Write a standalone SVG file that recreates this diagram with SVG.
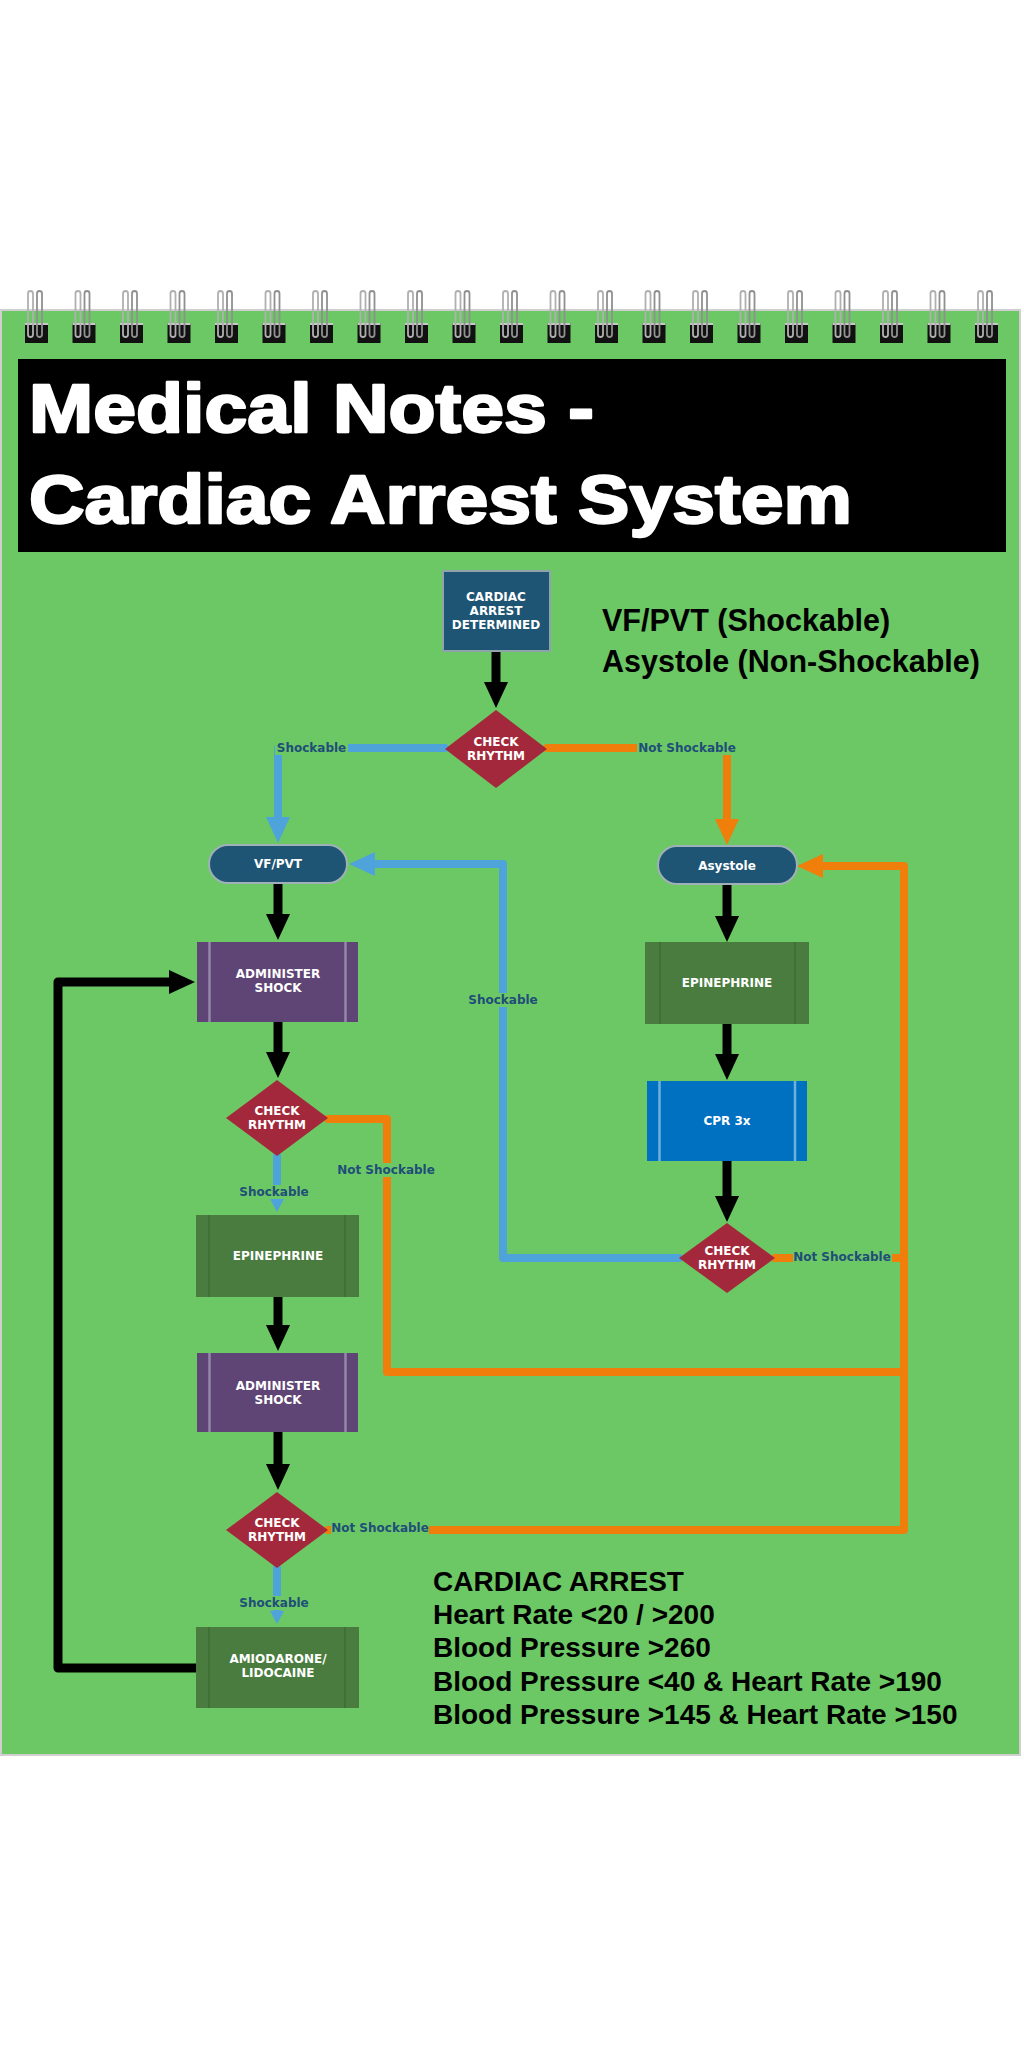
<svg xmlns="http://www.w3.org/2000/svg" xmlns:xlink="http://www.w3.org/1999/xlink" width="1024" height="2048" viewBox="0 0 1024 2048">
<style>
.nt{font-family:"DejaVu Sans",Verdana,sans-serif;font-weight:bold;font-size:12px;fill:#fff;text-anchor:middle}
.lb{font-family:"DejaVu Sans",Verdana,sans-serif;font-weight:bold;font-size:12px;fill:#1F4E79;text-anchor:middle}
.lbg{fill:#6CC864}
.big{font-family:"Liberation Sans",Arial,sans-serif;font-weight:bold;fill:#000}
.title{font-family:"Liberation Sans",Arial,sans-serif;font-weight:bold;font-size:69px;fill:#fff;stroke:#fff;stroke-width:2.4;stroke-linejoin:round}
.cb{fill:none;stroke:#000;stroke-width:9;stroke-linecap:round;stroke-linejoin:round}
.cbl{fill:none;stroke:#4FA3DB;stroke-width:8;stroke-linecap:round;stroke-linejoin:round}
.cor{fill:none;stroke:#EF7F0A;stroke-width:8;stroke-linecap:round;stroke-linejoin:round}
.dia{fill:#A3283B}
.pill{fill:#1E5574;stroke:#9fb0b8;stroke-width:2}
.purple{fill:#5E4575}
.pbar{stroke:#9587a8;stroke-width:2.5}
.dgreen{fill:#4A7C3F}
.gbar{stroke:#3F6C36;stroke-width:1.5}
.cpr{fill:#0070C0}
.cbar{stroke:#6fb0dc;stroke-width:2.5}
</style>
<defs>
<marker id="ahK" markerUnits="userSpaceOnUse" markerWidth="26" markerHeight="24" viewBox="0 0 26 24" refX="1" refY="12" orient="auto"><path d="M0,0L26,12L0,24z" fill="#000"/></marker>
<marker id="ahB" markerUnits="userSpaceOnUse" markerWidth="26" markerHeight="24" viewBox="0 0 26 24" refX="1" refY="12" orient="auto"><path d="M0,0L26,12L0,24z" fill="#4FA3DB"/></marker>
<marker id="ahBs" markerUnits="userSpaceOnUse" markerWidth="13" markerHeight="14" viewBox="0 0 13 14" refX="1" refY="7" orient="auto"><path d="M0,0L13,7L0,14z" fill="#4FA3DB"/></marker>
<marker id="ahO" markerUnits="userSpaceOnUse" markerWidth="26" markerHeight="24" viewBox="0 0 26 24" refX="1" refY="12" orient="auto"><path d="M0,0L26,12L0,24z" fill="#EF7F0A"/></marker>
<g id="ring">
<rect x="-12" y="323" width="23" height="20" fill="#111"/>
<rect x="-12" y="323" width="23" height="2" fill="#c8c8c8"/>
<rect x="-9" y="291" width="5" height="46" rx="2.5" fill="none" stroke="#b0b0b0" stroke-width="1.8"/>
<rect x="0" y="291" width="5" height="46" rx="2.5" fill="none" stroke="#909090" stroke-width="1.8"/>
</g>
</defs>
<rect width="1024" height="2048" fill="#fff"/>
<g id="page">
<rect x="1" y="310" width="1019" height="1445" fill="#6CC864" stroke="#cfcfcf" stroke-width="2"/>
<g id="rings">
<use xlink:href="#ring" x="37"/><use xlink:href="#ring" x="84.5"/><use xlink:href="#ring" x="132"/><use xlink:href="#ring" x="179.5"/><use xlink:href="#ring" x="227"/><use xlink:href="#ring" x="274.5"/><use xlink:href="#ring" x="322"/><use xlink:href="#ring" x="369.5"/><use xlink:href="#ring" x="417"/><use xlink:href="#ring" x="464.5"/><use xlink:href="#ring" x="512"/><use xlink:href="#ring" x="559.5"/><use xlink:href="#ring" x="607"/><use xlink:href="#ring" x="654.5"/><use xlink:href="#ring" x="702"/><use xlink:href="#ring" x="749.5"/><use xlink:href="#ring" x="797"/><use xlink:href="#ring" x="844.5"/><use xlink:href="#ring" x="892"/><use xlink:href="#ring" x="939.5"/><use xlink:href="#ring" x="987"/>
</g>
<rect x="18" y="359" width="988" height="193" fill="#000"/>
<text class="title" x="29" y="432" textLength="565" lengthAdjust="spacingAndGlyphs">Medical Notes -</text>
<text class="title" x="29" y="523" textLength="823" lengthAdjust="spacingAndGlyphs">Cardiac Arrest System</text>
<text class="big" font-size="30.5" x="602" y="631">VF/PVT (Shockable)</text>
<text class="big" font-size="30.5" x="602" y="672">Asystole (Non-Shockable)</text>
<g class="big" font-size="28">
<text x="433" y="1591">CARDIAC ARREST</text>
<text x="433" y="1624">Heart Rate &lt;20 / &gt;200</text>
<text x="433" y="1657">Blood Pressure &gt;260</text>
<text x="433" y="1691">Blood Pressure &lt;40 &amp; Heart Rate &gt;190</text>
<text x="433" y="1724">Blood Pressure &gt;145 &amp; Heart Rate &gt;150</text>
</g>
</g>
<g id="connectors">
<path class="cb" d="M496,651V683" marker-end="url(#ahK)"/>
<path class="cb" d="M278,883V915" marker-end="url(#ahK)"/>
<path class="cb" d="M278,1022V1053" marker-end="url(#ahK)"/>
<path class="cb" d="M278,1297V1326" marker-end="url(#ahK)"/>
<path class="cb" d="M278,1432V1465" marker-end="url(#ahK)"/>
<path class="cb" d="M727,884V917" marker-end="url(#ahK)"/>
<path class="cb" d="M727,1024V1055" marker-end="url(#ahK)"/>
<path class="cb" d="M727,1161V1197" marker-end="url(#ahK)"/>
<path class="cb" d="M196,1668H58V982H170" marker-end="url(#ahK)"/>
<path class="cbl" d="M445,748H278V818" marker-end="url(#ahB)"/>
<path class="cbl" d="M679,1258H503V864H374" marker-end="url(#ahB)"/>
<path class="cbl" d="M277,1156V1200" marker-end="url(#ahBs)"/>
<path class="cbl" d="M277,1568V1612" marker-end="url(#ahBs)"/>
<path class="cor" d="M547,748H727V820" marker-end="url(#ahO)"/>
<path class="cor" d="M328,1530H904V866H822" marker-end="url(#ahO)"/>
<path class="cor" d="M775,1258H904"/>
<path class="cor" d="M328,1119H387V1372H904"/>
<rect class="lbg" x="275" y="741" width="73" height="14"/><text class="lb" x="311.5" y="752">Shockable</text>
<rect class="lbg" x="637" y="741" width="100" height="14"/><text class="lb" x="687" y="752">Not Shockable</text>
<rect class="lbg" x="237" y="1185" width="74" height="14"/><text class="lb" x="274" y="1196">Shockable</text>
<rect class="lbg" x="336" y="1163" width="100" height="14"/><text class="lb" x="386" y="1174">Not Shockable</text>
<rect class="lbg" x="466" y="993" width="74" height="14"/><text class="lb" x="503" y="1004">Shockable</text>
<rect class="lbg" x="793" y="1250" width="99" height="14"/><text class="lb" x="842" y="1261">Not Shockable</text>
<rect class="lbg" x="331" y="1521" width="98" height="14"/><text class="lb" x="380" y="1532">Not Shockable</text>
<rect class="lbg" x="237" y="1596" width="74" height="14"/><text class="lb" x="274" y="1607">Shockable</text>
</g>
<g id="n-cardiac-arrest">
<rect x="443" y="571" width="107" height="80" fill="#1E5574" stroke="#8fa3ab" stroke-width="2"/>
<text class="nt" x="496" y="601">CARDIAC</text>
<text class="nt" x="496" y="615">ARREST</text>
<text class="nt" x="496" y="629">DETERMINED</text>
</g>
<g id="n-check1">
<polygon class="dia" points="496,710 547,749 496,788 445,749"/>
<text class="nt" x="496" y="746">CHECK</text>
<text class="nt" x="496" y="760">RHYTHM</text>
</g>
<g id="n-vfpvt">
<rect class="pill" x="209" y="845" width="138" height="38" rx="19"/>
<text class="nt" x="278" y="868">VF/PVT</text>
</g>
<g id="n-asystole">
<rect class="pill" x="658" y="846" width="139" height="38" rx="19"/>
<text class="nt" x="727" y="870">Asystole</text>
</g>
<g id="n-shock1">
<rect class="purple" x="197" y="942" width="161" height="80"/>
<line class="pbar" x1="209.5" y1="942" x2="209.5" y2="1022"/>
<line class="pbar" x1="345.5" y1="942" x2="345.5" y2="1022"/>
<text class="nt" x="278" y="978">ADMINISTER</text>
<text class="nt" x="278" y="992">SHOCK</text>
</g>
<g id="n-check2">
<polygon class="dia" points="277,1080 328,1118 277,1156 226,1118"/>
<text class="nt" x="277" y="1115">CHECK</text>
<text class="nt" x="277" y="1129">RHYTHM</text>
</g>
<g id="n-epi-left">
<rect class="dgreen" x="196" y="1215" width="163" height="82"/>
<line class="gbar" x1="209" y1="1215" x2="209" y2="1297"/>
<line class="gbar" x1="345" y1="1215" x2="345" y2="1297"/>
<text class="nt" x="278" y="1260">EPINEPHRINE</text>
</g>
<g id="n-shock2">
<rect class="purple" x="197" y="1353" width="161" height="79"/>
<line class="pbar" x1="209.5" y1="1353" x2="209.5" y2="1432"/>
<line class="pbar" x1="345.5" y1="1353" x2="345.5" y2="1432"/>
<text class="nt" x="278" y="1390">ADMINISTER</text>
<text class="nt" x="278" y="1404">SHOCK</text>
</g>
<g id="n-check4">
<polygon class="dia" points="277,1492 328,1530 277,1568 226,1530"/>
<text class="nt" x="277" y="1527">CHECK</text>
<text class="nt" x="277" y="1541">RHYTHM</text>
</g>
<g id="n-amiodarone">
<rect class="dgreen" x="196" y="1627" width="163" height="81"/>
<line class="gbar" x1="209" y1="1627" x2="209" y2="1708"/>
<line class="gbar" x1="345" y1="1627" x2="345" y2="1708"/>
<text class="nt" x="278" y="1663">AMIODARONE/</text>
<text class="nt" x="278" y="1677">LIDOCAINE</text>
</g>
<g id="n-epi-right">
<rect class="dgreen" x="645" y="942" width="164" height="82"/>
<line class="gbar" x1="660" y1="942" x2="660" y2="1024"/>
<line class="gbar" x1="795" y1="942" x2="795" y2="1024"/>
<text class="nt" x="727" y="987">EPINEPHRINE</text>
</g>
<g id="n-cpr">
<rect class="cpr" x="647" y="1081" width="160" height="80"/>
<line class="cbar" x1="659.5" y1="1081" x2="659.5" y2="1161"/>
<line class="cbar" x1="795" y1="1081" x2="795" y2="1161"/>
<text class="nt" x="727" y="1125">CPR 3x</text>
</g>
<g id="n-check3">
<polygon class="dia" points="727,1223 775,1258 727,1293 679,1258"/>
<text class="nt" x="727" y="1255">CHECK</text>
<text class="nt" x="727" y="1269">RHYTHM</text>
</g>
</svg>
